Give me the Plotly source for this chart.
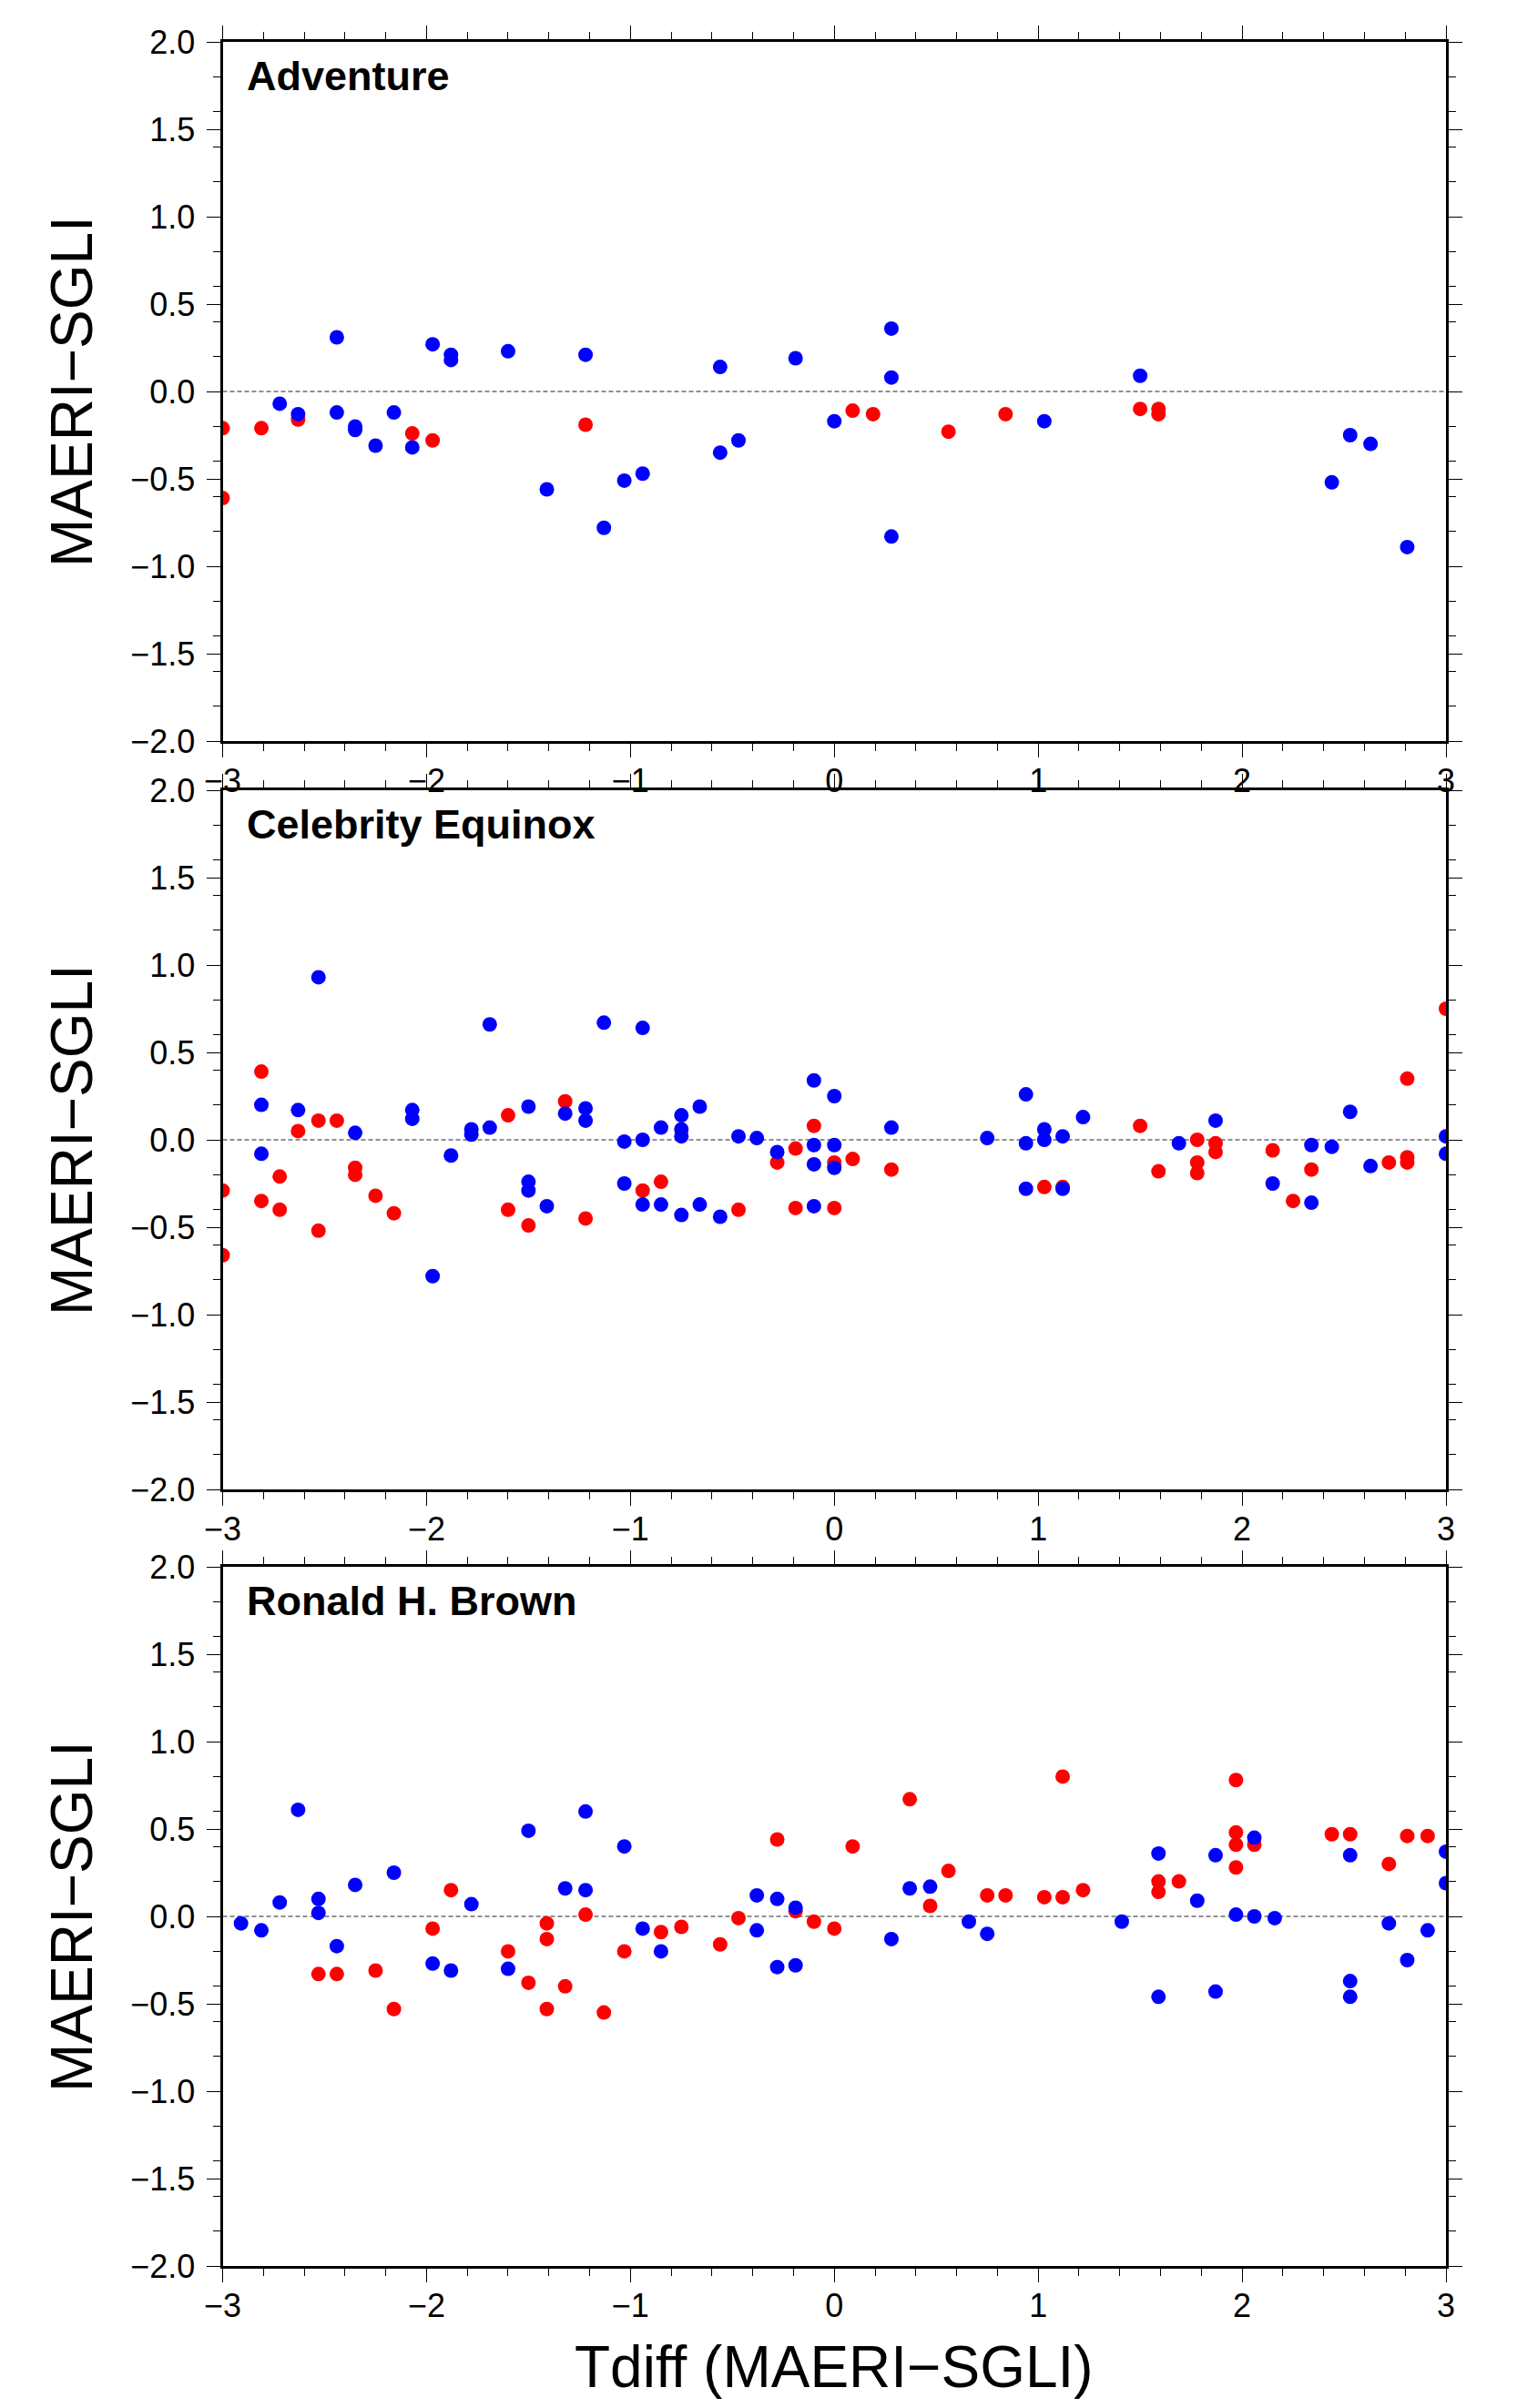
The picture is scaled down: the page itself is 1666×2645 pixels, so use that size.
import plotly.graph_objects as go

# page is 1666x2645; the html body adds an 8px margin, so the figure is sized to fit inside it
OFF = 8
W, H = 1666 - 2 * OFF, 2645 - 2 * OFF

# ---------------- data ----------------
panel_titles = ["Adventure", "Celebrity Equinox", "Ronald H. Brown"]

adv_red_x = [-3.0, -3.0, -2.81, -2.63, -2.07, -1.97, -1.22, 0.09, 0.19, 0.56, 0.84, 1.50, 1.59, 1.59]
adv_red_y = [-0.21, -0.61, -0.21, -0.16, -0.24, -0.28, -0.19, -0.11, -0.13, -0.23, -0.13, -0.10, -0.10, -0.13]
adv_blue_x = [-2.72, -2.63, -2.44, -2.44, -2.35, -2.35, -2.25, -2.16, -2.07, -1.97, -1.88, -1.88,
              -1.60, -1.41, -1.22, -1.13, -1.03, -0.94, -0.56, -0.56, -0.47, -0.19, 0.0, 0.28,
              0.28, 0.28, 1.03, 1.50, 2.44, 2.53, 2.63, 2.81]
adv_blue_y = [-0.07, -0.13, 0.31, -0.12, -0.20, -0.22, -0.31, -0.12, -0.32, 0.27, 0.21, 0.18,
              0.23, -0.56, 0.21, -0.78, -0.51, -0.47, 0.14, -0.35, -0.28, 0.19, -0.17, 0.36,
              0.08, -0.83, -0.17, 0.09, -0.52, -0.25, -0.30, -0.89]

ceq_red_x = [-3.0, -3.0, -2.81, -2.81, -2.72, -2.72, -2.63, -2.53, -2.53, -2.44, -2.35, -2.35,
             -2.25, -2.16, -1.60, -1.60, -1.50, -1.32, -1.22, -0.94, -0.85, -0.47, -0.28, -0.19,
             -0.19, -0.10, 0.0, 0.0, 0.09, 0.28, 1.03, 1.12, 1.50, 1.59, 1.78, 1.78, 1.78, 1.87,
             1.87, 2.15, 2.25, 2.34, 2.72, 2.81, 2.81, 2.81, 3.0]
ceq_red_y = [-0.29, -0.66, 0.39, -0.35, -0.21, -0.40, 0.05, 0.11, -0.52, 0.11, -0.16, -0.20,
             -0.32, -0.42, 0.14, -0.40, -0.49, 0.22, -0.45, -0.29, -0.24, -0.40, -0.13, -0.05,
             -0.39, 0.08, -0.13, -0.39, -0.11, -0.17, -0.27, -0.27, 0.08, -0.18, 0.0, -0.13,
             -0.19, -0.02, -0.07, -0.06, -0.35, -0.17, -0.13, 0.35, -0.10, -0.13, 0.75]
ceq_blue_x = [-2.81, -2.81, -2.63, -2.53, -2.35, -2.07, -2.07, -1.97, -1.88, -1.78, -1.78, -1.69,
              -1.69, -1.50, -1.50, -1.50, -1.41, -1.32, -1.22, -1.22, -1.13, -1.03, -1.03, -0.94,
              -0.94, -0.94, -0.85, -0.85, -0.75, -0.75, -0.75, -0.75, -0.66, -0.66, -0.56, -0.47,
              -0.38, -0.28, -0.10, -0.10, -0.10, -0.10, 0.0, 0.0, 0.0, 0.28, 0.75, 0.94, 0.94,
              0.94, 1.03, 1.03, 1.12, 1.12, 1.22, 1.69, 1.87, 2.15, 2.34, 2.34, 2.44, 2.53, 2.63,
              3.0, 3.0]
ceq_blue_y = [0.20, -0.08, 0.17, 0.93, 0.04, 0.17, 0.12, -0.78, -0.09, 0.06, 0.03, 0.66,
              0.07, 0.19, -0.24, -0.29, -0.38, 0.15, 0.18, 0.11, 0.67, -0.01, -0.25, 0.64,
              0.0, -0.37, 0.07, -0.37, 0.14, 0.06, 0.02, -0.43, 0.19, -0.37, -0.44, 0.02,
              0.01, -0.07, 0.34, -0.03, -0.14, -0.38, 0.25, -0.03, -0.16, 0.07, 0.01, 0.26, -0.02,
              -0.28, 0.06, 0.0, 0.02, -0.28, 0.13, -0.02, 0.11, -0.25, -0.03, -0.36, -0.04, 0.16, -0.15,
              0.02, -0.08]

rhb_red_x = [-2.53, -2.44, -2.25, -2.16, -1.97, -1.88, -1.60, -1.50, -1.41, -1.41, -1.41, -1.32,
             -1.22, -1.13, -1.03, -0.85, -0.75, -0.56, -0.47, -0.28, -0.19, -0.10, 0.0, 0.09,
             0.37, 0.47, 0.56, 0.75, 0.84, 1.03, 1.12, 1.12, 1.22, 1.59, 1.59, 1.69, 1.97, 1.97,
             1.97, 1.97, 2.06, 2.44, 2.53, 2.72, 2.81, 2.91]
rhb_red_y = [-0.33, -0.33, -0.31, -0.53, -0.07, 0.15, -0.20, -0.38, -0.04, -0.13, -0.53, -0.40,
             0.01, -0.55, -0.20, -0.09, -0.06, -0.16, -0.01, 0.44, 0.03, -0.03, -0.07, 0.40,
             0.67, 0.06, 0.26, 0.12, 0.12, 0.11, 0.11, 0.80, 0.15, 0.20, 0.14, 0.20, 0.78, 0.48,
             0.41, 0.28, 0.41, 0.47, 0.47, 0.30, 0.46, 0.46]
rhb_blue_x = [-2.91, -2.81, -2.72, -2.63, -2.53, -2.53, -2.44, -2.35, -2.16, -1.97, -1.88, -1.78,
              -1.60, -1.50, -1.32, -1.22, -1.22, -1.03, -0.94, -0.85, -0.38, -0.38, -0.28, -0.28,
              -0.19, -0.19, 0.28, 0.37, 0.47, 0.66, 0.75, 1.41, 1.59, 1.59, 1.78, 1.87, 1.87, 1.97,
              2.06, 2.06, 2.16, 2.53, 2.53, 2.53, 2.72, 2.81, 2.91, 3.0, 3.0]
rhb_blue_y = [-0.04, -0.08, 0.08, 0.61, 0.10, 0.02, -0.17, 0.18, 0.25, -0.27, -0.31, 0.07,
              -0.30, 0.49, 0.16, 0.60, 0.15, 0.40, -0.07, -0.20, 0.12, -0.08, 0.10, -0.29,
              0.05, -0.28, -0.13, 0.16, 0.17, -0.03, -0.10, -0.03, 0.36, -0.46, 0.09, 0.35, -0.43, 0.01,
              0.45, 0.0, -0.01, 0.35, -0.37, -0.46, -0.04, -0.25, -0.08, 0.37, 0.19]

y_title = "MAERI\u2212SGLI"
x_title = "Tdiff (MAERI\u2212SGLI)"

panels = [
    (adv_red_x, adv_red_y, adv_blue_x, adv_blue_y),
    (ceq_red_x, ceq_red_y, ceq_blue_x, ceq_blue_y),
    (rhb_red_x, rhb_red_y, rhb_blue_x, rhb_blue_y),
]

# ---------------- layout geometry (page pixels) ----------------
X_LEFT, X_RIGHT = 244.5, 1588
PANEL_PX = [(46, 814), (868, 1636), (1721, 2489)]

FONT = "Liberation Sans, Arial, Helvetica, sans-serif"


def px_(x):
    return (x - OFF) / W


def py(y):
    return 1 - (y - OFF) / H


fig = go.Figure()
layout = dict(
    width=W, height=H,
    margin=dict(l=0, r=0, t=0, b=0, pad=0, autoexpand=False),
    paper_bgcolor="white", plot_bgcolor="white",
    showlegend=False,
    font=dict(family=FONT, color="black"),
)
annotations = []
shapes = []

for i, (rx, ry, bx, by) in enumerate(panels):
    n = "" if i == 0 else str(i + 1)
    xa, ya = "x" + n, "y" + n
    fig.add_trace(go.Scatter(x=rx, y=ry, mode="markers", xaxis=xa, yaxis=ya,
                             marker=dict(color="#ff0000", size=16, line=dict(width=0))))
    fig.add_trace(go.Scatter(x=bx, y=by, mode="markers", xaxis=xa, yaxis=ya,
                             marker=dict(color="#0000ff", size=16, line=dict(width=0))))
    top, bot = PANEL_PX[i]
    common = dict(showline=True, linewidth=3, linecolor="black", mirror="ticks",
                  ticks="outside", ticklen=15, tickwidth=1.2, tickcolor="black",
                  showgrid=False, zeroline=False, automargin=False,
                  tickfont=dict(family=FONT, size=36, color="black"))
    layout["xaxis" + n] = dict(common, domain=[px_(X_LEFT), px_(X_RIGHT)], range=[-3, 3],
                               anchor=ya, tickmode="linear", tick0=-3, dtick=1,
                               ticklabelstandoff=-5,
                               minor=dict(dtick=0.2, tick0=-3, ticklen=8, tickwidth=1.2,
                                          tickcolor="black", ticks="outside"))
    layout["yaxis" + n] = dict(common, domain=[py(bot), py(top)], range=[-2, 2],
                               anchor=xa, tickmode="linear", tick0=-2, dtick=0.5,
                               tickformat=".1f", ticklabelstandoff=5,
                               minor=dict(dtick=0.2, tick0=-2, ticklen=8, tickwidth=1.2,
                                          tickcolor="black", ticks="outside"))
    shapes.append(dict(type="line", xref=xa + " domain", x0=0, x1=1, yref=ya, y0=0, y1=0,
                       line=dict(color="#222222", width=1.2, dash="5px,3px"), layer="below"))
    annotations.append(dict(text="<b>" + panel_titles[i] + "</b>", xref="paper", yref="paper",
                            x=px_(269), y=py(top + 37), xanchor="left", yanchor="middle",
                            showarrow=False, font=dict(family=FONT, size=45, color="black")))
    annotations.append(dict(text=y_title, xref="paper", yref="paper", textangle=-90,
                            x=px_(79), y=py((top + bot) / 2), xanchor="center", yanchor="middle",
                            showarrow=False, font=dict(family=FONT, size=64, color="black")))

annotations.append(dict(text=x_title, xref="paper", yref="paper",
                        x=px_((X_LEFT + X_RIGHT) / 2), y=py(2600), xanchor="center",
                        yanchor="middle", showarrow=False,
                        font=dict(family=FONT, size=64, color="black")))

layout["annotations"] = annotations
layout["shapes"] = shapes
fig.update_layout(**layout)
fig.write_html("out.html")
